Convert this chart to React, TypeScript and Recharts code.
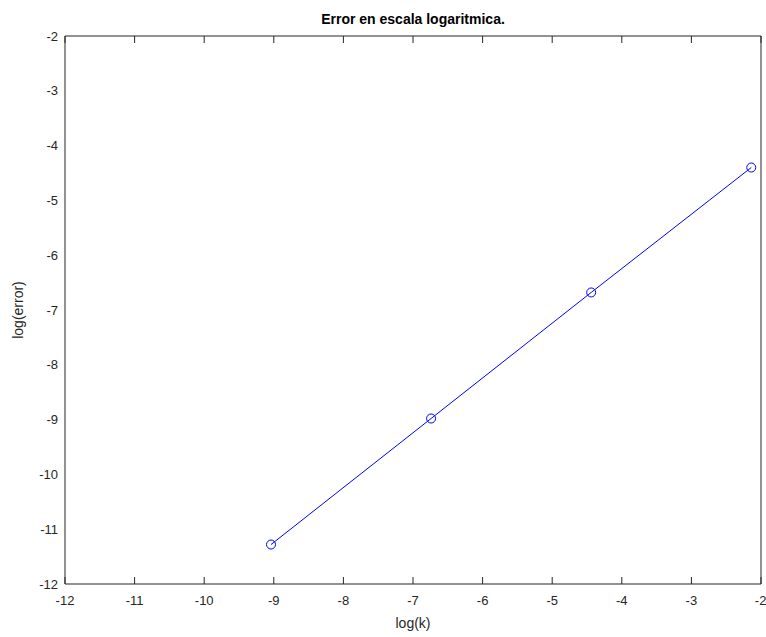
import { Line, LineChart, XAxis, YAxis } from "recharts";

const logK = [-9.04, -6.74, -4.44, -2.14];
const logError = [-11.28, -8.98, -6.68, -4.4];
const axisTicks = [-12, -11, -10, -9, -8, -7, -6, -5, -4, -3, -2];
const axisDomain = [-12, -2];

const data = logK.map((x, i) => ({ x, y: logError[i] }));

const ink = "#262626";
const font = '"Liberation Sans", Arial, Helvetica, sans-serif';

const NoTick = () => <g />;

const YTitle = ({ viewBox }: any) => {
  const cx = viewBox.x + 18;
  const cy = viewBox.y + viewBox.height / 2;
  return (
    <text
      x={cx}
      y={cy}
      transform={`rotate(-90, ${cx}, ${cy})`}
      textAnchor="middle"
      dominantBaseline="central"
      fill={ink}
      fontSize={14}
      fontFamily={font}
    >
      log(error)
    </text>
  );
};

export default function App() {
  return (
    <div style={{ position: "absolute", left: 0, top: 0, background: "#fff" }}>
      <LineChart
        width={766}
        height={637}
        data={data}
        margin={{ top: 36, right: 5, bottom: 0, left: 0 }}
        style={{ fontFamily: font }}
      >
        {/* labelled axes */}
        <XAxis
          dataKey="x"
          type="number"
          domain={axisDomain}
          ticks={axisTicks}
          height={53}
          stroke={ink}
          tickLine={false}
          tickSize={0}
          tickMargin={12}
          tick={{ fill: ink, fontSize: 13 }}
          label={{ value: "log(k)", position: "insideBottom", offset: 9, fill: ink, fontSize: 14 }}
        />
        <YAxis
          type="number"
          domain={axisDomain}
          ticks={axisTicks}
          width={65}
          stroke={ink}
          tickLine={false}
          tickSize={0}
          tickMargin={7}
          tick={{ fill: ink, fontSize: 13 }}
          label={{ content: YTitle }}
        />
        {/* inward tick marks and box */}
        <XAxis
          xAxisId="bIn"
          orientation="bottom"
          mirror
          dataKey="x"
          type="number"
          domain={axisDomain}
          ticks={axisTicks}
          axisLine={false}
          stroke={ink}
          tickSize={7}
          tick={NoTick}
        />
        <XAxis
          xAxisId="top"
          orientation="top"
          mirror
          dataKey="x"
          type="number"
          domain={axisDomain}
          ticks={axisTicks}
          stroke={ink}
          tickSize={7}
          tick={NoTick}
          label={{
            value: "Error en escala logaritmica.",
            position: "top",
            offset: 12,
            fill: "#000",
            fontSize: 14,
            fontWeight: "bold",
          }}
        />
        <YAxis
          yAxisId="lIn"
          orientation="left"
          mirror
          type="number"
          domain={axisDomain}
          ticks={axisTicks}
          axisLine={false}
          stroke={ink}
          tickSize={7}
          tick={NoTick}
        />
        <YAxis
          yAxisId="right"
          orientation="right"
          mirror
          type="number"
          domain={axisDomain}
          ticks={axisTicks}
          stroke={ink}
          tickSize={7}
          tick={NoTick}
        />
        <Line
          dataKey="y"
          type="linear"
          stroke="#0000ff"
          strokeWidth={1}
          dot={{ r: 4.5, stroke: "#0000ff", strokeWidth: 1, fill: "none" }}
          isAnimationActive={false}
        />
      </LineChart>
    </div>
  );
}
